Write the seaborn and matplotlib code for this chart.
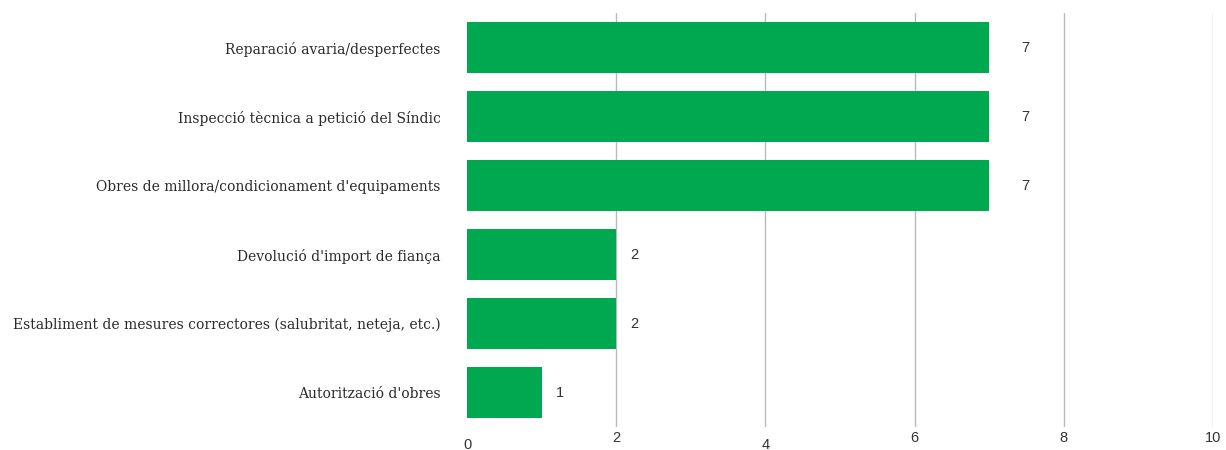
import matplotlib
matplotlib.use("Agg")
import matplotlib.pyplot as plt
import seaborn as sns
import pandas as pd

categories = [
    "Reparació avaria/desperfectes",
    "Inspecció tècnica a petició del Síndic",
    "Obres de millora/condicionament d'equipaments",
    "Devolució d'import de fiança",
    "Establiment de mesures correctores (salubritat, neteja, etc.)",
    "Autorització d'obres",
]
values = [7, 7, 7, 2, 2, 1]
x_ticks = [0, 2, 4, 6, 8, 10]

df = pd.DataFrame({"categoria": categories, "valor": values})

sns.set_theme(style="white")
sans = ["Liberation Sans Narrow", "Liberation Sans", "DejaVu Sans"]
serif = ["DejaVu Serif"]

fig = plt.figure(figsize=(12.26, 4.5), dpi=100)
ax = fig.add_axes([0.381, 0.0511, 0.6084, 0.92])

sns.barplot(data=df, x="valor", y="categoria", color="#00A84F",
            saturation=1, width=0.74, linewidth=0, ax=ax, orient="h")

ax.set_xlim(0, 10)
ax.set_ylim(len(categories) - 0.5, -0.5)
ax.set_xticks(x_ticks)
ax.set_xticklabels([str(t) for t in x_ticks], family=sans, fontsize=10.5,
                   color="#333333")
ax.set_yticklabels(categories, family=serif, fontsize=10, color="#2a2a2a")
ax.tick_params(axis="y", length=0, pad=19)
ax.tick_params(axis="x", length=0, pad=3)
# stagger some of the x labels downward
for i in (0, 2):
    ax.xaxis.get_major_ticks()[i].set_pad(8)

for t in x_ticks[1:]:
    ax.axvline(t, color="#BBBBBB", lw=1, zorder=0)

for s in ax.spines.values():
    s.set_visible(False)

ax.set_xlabel("")
ax.set_ylabel("")

for i, v in enumerate(values):
    ax.annotate(str(v), xy=(v, i), xytext=(10 if v < 5 else 23, 0),
                textcoords="offset points", va="center", ha="left",
                family=sans, fontsize=10.5, color="#333333")

fig.savefig("out.png", dpi=100)
